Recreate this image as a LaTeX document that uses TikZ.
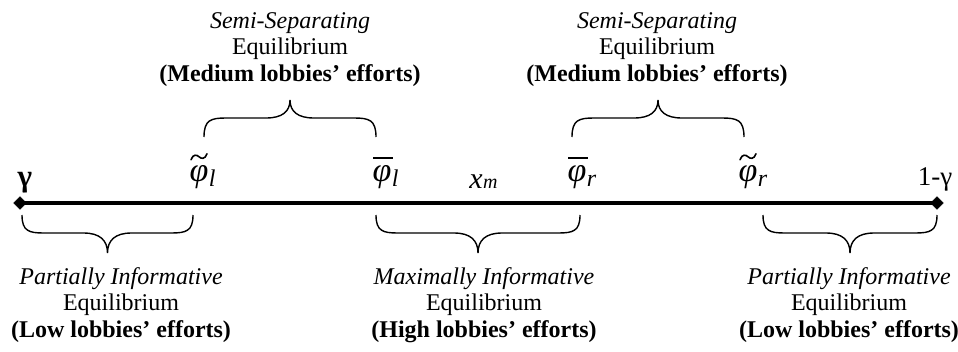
\documentclass[tikz,border=0pt]{standalone}
\usepackage{fontspec}
\setmainfont{Liberation Serif}
\usetikzlibrary{shapes.geometric}

% curly brace: #1,#2 end x; #3 end y; #4 plateau y; #5 tip y
\newcommand{\curlybrace}[5]{%
  \pgfmathsetmacro{\bxc}{(#1+#2)/2}%
  \draw[bracepath] (#1,#3)
     .. controls (#1,{#3+0.9*(#4-#3)}) and ({#1+7},#4) .. ({#1+22},#4)
     -- ({\bxc-24},#4)
     .. controls ({\bxc-8},#4) and (\bxc,{#4+0.35*(#5-#4)}) .. (\bxc,#5)
     .. controls (\bxc,{#4+0.35*(#5-#4)}) and ({\bxc+8},#4) .. ({\bxc+24},#4)
     -- ({#2-22},#4)
     .. controls ({#2-7},#4) and (#2,{#3+0.9*(#4-#3)}) .. (#2,#3);%
}

% three-line equilibrium caption: name, centre x, first baseline, italic line, bold line
\newcommand{\eqgroup}[5]{%
  \node[lbl] (#1-a) at (#2,#3) {\itshape #4};
  \node[lbl] (#1-b) at (#2,{#3+26.5}) {Equilibrium};
  \node[lbl] (#1-c) at (#2,{#3+53}) {\bfseries #5};
}

\begin{document}
\begin{tikzpicture}[x=1pt,y=-1pt,
  lbl/.style={inner sep=0pt, anchor=base, font=\fontsize{24}{27}\selectfont},
  phisym/.style={inner sep=0pt, anchor=base, font=\fontsize{34}{36}\selectfont\itshape},
  subsym/.style={inner sep=0pt, anchor=base west, font=\fontsize{24}{26}\selectfont\itshape},
  endpt/.style={diamond, fill=black, draw=black, inner sep=0pt, minimum size=13pt},
  axis/.style={line width=3.2pt},
  bracepath/.style={line width=1.4pt},
  tildestroke/.style={line width=1.6pt, line cap=round},
  barstroke/.style={line width=1.6pt},
]
\useasboundingbox (0,0) rectangle (958,351);

% interval with its end points
\node[endpt] (lend) at (20,203) {};
\node[endpt] (rend) at (937,203) {};
\draw[axis] (lend.center) -- (rend.center);

% end labels
\node[lbl, font=\fontsize{31}{33}\selectfont\bfseries] (gam) at (25,186) {γ};
\node[lbl, font=\fontsize{27}{30}\selectfont] (omg) at (935,185) {1-γ};

% thresholds
\node[phisym] (pl) at (199,181) {φ};
\node[subsym] (plsub) at ([yshift=-5pt]pl.base east) {l};
\draw[tildestroke, shift={(pl.north)}]
  (-8,-5) .. controls (-6,-11) and (-2,-10) .. (0,-8)
          .. controls (2,-6) and (6,-5) .. (8,-11);

\node[phisym] (bl) at (382,181) {φ};
\node[subsym] (blsub) at ([yshift=-5pt]bl.base east) {l};
\draw[barstroke] ([xshift=1pt,yshift=7pt]bl.north west) -- ([xshift=1pt,yshift=7pt]bl.north east);

\node[lbl, font=\fontsize{30}{32}\selectfont\itshape] (xm) at (476,188) {x};
\node[inner sep=0pt, anchor=base west, font=\fontsize{20}{22}\selectfont\itshape] (xmsub) at (xm.base east) {m};

\node[phisym] (br) at (577,181) {φ};
\node[subsym] (brsub) at ([yshift=-5pt]br.base east) {r};
\draw[barstroke] ([xshift=1pt,yshift=7pt]br.north west) -- ([xshift=1pt,yshift=7pt]br.north east);

\node[phisym] (pr) at (748,181) {φ};
\node[subsym] (prsub) at ([yshift=-5pt]pr.base east) {r};
\draw[tildestroke, shift={(pr.north)}]
  (-8,-5) .. controls (-6,-11) and (-2,-10) .. (0,-8)
          .. controls (2,-6) and (6,-5) .. (8,-11);

% braces above the line
\curlybrace{204}{376}{137}{118}{100}
\curlybrace{572}{744}{137}{118}{100}
% braces below the line
\curlybrace{22}{193}{215}{233}{253}
\curlybrace{376}{580}{215}{233}{253}
\curlybrace{763}{937}{215}{233}{253}

% captions
\eqgroup{semil}{290}{28}{Semi-Separating}{(Medium lobbies’ efforts)}
\eqgroup{semir}{657}{28}{Semi-Separating}{(Medium lobbies’ efforts)}
\eqgroup{partl}{121}{284}{Partially Informative}{(Low lobbies’ efforts)}
\eqgroup{maxi}{484}{284}{Maximally Informative}{(High lobbies’ efforts)}
\eqgroup{partr}{849}{284}{Partially Informative}{(Low lobbies’ efforts)}
\end{tikzpicture}
\end{document}
